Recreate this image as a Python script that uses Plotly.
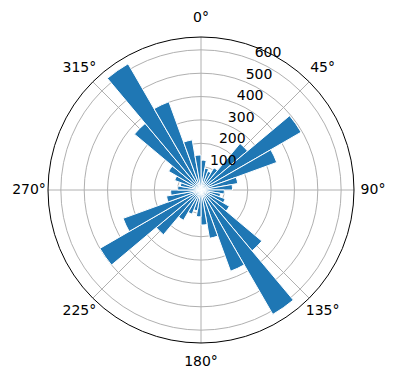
import plotly.graph_objects as go

# Bin centers (degrees, clockwise from north) and counts
directions = [5, 15, 25, 35, 45, 55, 65, 75, 85, 95, 105, 115, 125, 135, 145, 155, 165, 175,
              185, 195, 205, 215, 225, 235, 245, 255, 265, 275, 285, 295, 305, 315, 325, 335, 345, 355]
counts = [128, 95, 85, 110, 260, 495, 345, 160, 135, 100, 85, 110, 140, 340, 615, 370, 210, 150,
          115, 90, 110, 150, 250, 500, 355, 150, 130, 100, 90, 120, 160, 372, 624, 402, 218, 150]
bin_width = 10
r_ticks = [100, 200, 300, 400, 500, 600]
r_label_theta = 22.5
theta_ticks = [0, 45, 90, 135, 180, 225, 270, 315]
theta_labels = [f"{t}°" for t in theta_ticks]
r_max = 655

W, H = 396, 380
CX, CY, R = 201, 190, 153      # plot circle centre / radius in pixels
R_LAB = 180                     # outer helper subplot radius (px)
LAB_R = 172                     # label centre radius (px)

fig = go.Figure()
fig.add_trace(go.Barpolar(
    r=counts,
    theta=directions,
    width=[bin_width] * len(directions),
    marker=dict(color="#1f77b4", line=dict(color="white", width=1)),
    opacity=1,
))
# radial tick labels, anchored at (r, 22.5°) like matplotlib
fig.add_trace(go.Scatterpolar(
    r=r_ticks,
    theta=[r_label_theta] * len(r_ticks),
    mode="text",
    text=[str(v) for v in r_ticks],
    textposition="top right",
    textfont=dict(family="DejaVu Sans", size=14, color="black"),
    cliponaxis=False,
    hoverinfo="skip",
))
# angular tick labels on an invisible, slightly larger concentric polar subplot
fig.add_trace(go.Scatterpolar(
    r=[LAB_R] * len(theta_ticks),
    theta=theta_ticks,
    mode="text",
    text=theta_labels,
    textposition="middle center",
    textfont=dict(family="DejaVu Sans", size=14, color="black"),
    cliponaxis=False,
    hoverinfo="skip",
    subplot="polar2",
))

hidden_axis = dict(showticklabels=False, showgrid=False, showline=False, ticks="")

fig.update_layout(
    width=W, height=H,
    margin=dict(l=0, r=0, t=0, b=0),
    paper_bgcolor="white",
    showlegend=False,
    font=dict(family="DejaVu Sans", size=14, color="black"),
    polar=dict(
        domain=dict(x=[(CX - R) / W, (CX + R) / W], y=[(H - CY - R) / H, (H - CY + R) / H]),
        bgcolor="white",
        bargap=0,
        angularaxis=dict(
            rotation=90, direction="clockwise",
            tickmode="array", tickvals=theta_ticks,
            showticklabels=False,
            showgrid=True, gridcolor="#b0b0b0", gridwidth=1,
            showline=True, linecolor="black", linewidth=1,
            ticks="", layer="above traces",
        ),
        radialaxis=dict(
            range=[0, r_max], tickmode="array", tickvals=r_ticks,
            showticklabels=False,
            showgrid=True, gridcolor="#b0b0b0", gridwidth=1,
            showline=False, ticks="", angle=67.5,
            layer="above traces",
        ),
    ),
    polar2=dict(
        domain=dict(x=[(CX - R_LAB) / W, (CX + R_LAB) / W], y=[(H - CY - R_LAB) / H, (H - CY + R_LAB) / H]),
        bgcolor="rgba(0,0,0,0)",
        angularaxis=dict(rotation=90, direction="clockwise", **hidden_axis),
        radialaxis=dict(range=[0, R_LAB], **hidden_axis),
    ),
)

fig.write_html("out.html")
